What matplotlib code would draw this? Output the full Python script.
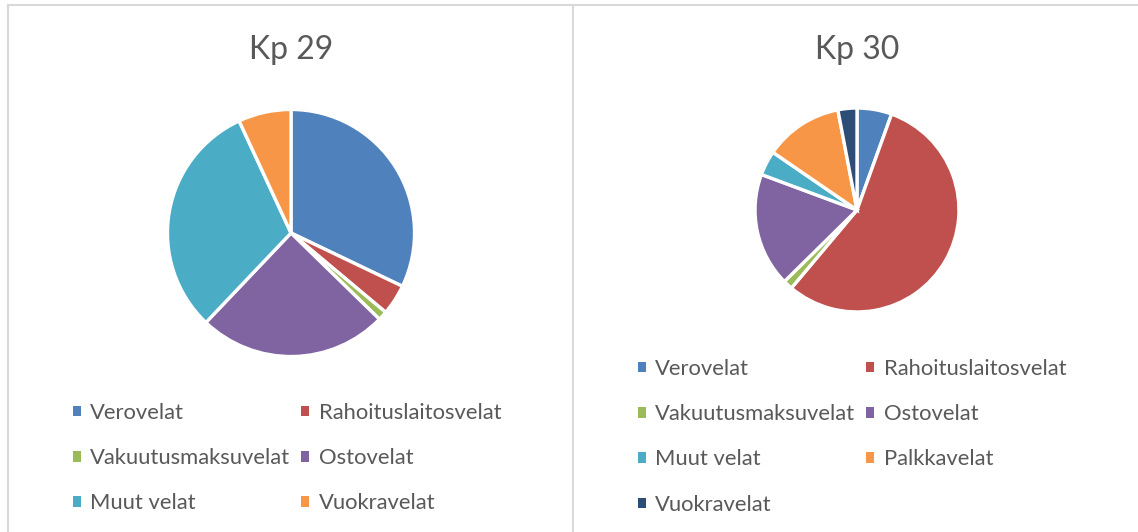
import matplotlib
matplotlib.use("Agg")
import matplotlib.pyplot as plt
from matplotlib.lines import Line2D
from matplotlib.patches import Patch

plt.rcParams['font.family'] = ['Lato', 'DejaVu Sans']

W, H = 1138, 532

# Kp 29
labels_29 = ["Verovelat", "Rahoituslaitosvelat", "Vakuutusmaksuvelat",
             "Ostovelat", "Muut velat", "Vuokravelat"]
values_29 = [32.1, 4.0, 1.2, 24.8, 31.0, 6.9]
colors_29 = ["#4F81BD", "#C0504D", "#9BBB59", "#8064A2", "#4BACC6", "#F79646"]

# Kp 30
labels_30 = ["Verovelat", "Rahoituslaitosvelat", "Vakuutusmaksuvelat",
             "Ostovelat", "Muut velat", "Palkkavelat", "Vuokravelat"]
values_30 = [5.5, 55.5, 1.5, 18.0, 3.9, 12.4, 3.0]
colors_30 = ["#4F81BD", "#C0504D", "#9BBB59", "#8064A2", "#4BACC6",
             "#F79646", "#2C4D75"]

TXT = "#595959"
GRID = "#D9D9D9"


def px_axes(fig, cx, cy, r):
    # axes box from pixel center and radius (y from top)
    return fig.add_axes([(cx - r) / W, (H - cy - r) / H, 2 * r / W, 2 * r / H])


def draw_panel(fig, cx, cy, r, title, labels, values, colors, leg_x, leg_y):
    ax = px_axes(fig, cx, cy, r)
    wedges, _ = ax.pie(values, colors=colors, startangle=90, counterclock=False,
                       radius=1.0, wedgeprops=dict(edgecolor="white", linewidth=2.4))
    ax.set_xlim(-1.02, 1.02)
    ax.set_ylim(-1.02, 1.02)
    ax.set_aspect("equal")
    ax.axis("off")
    fig.text(cx / W, 1 - 50 / H, title, ha="center", va="center",
             fontsize=23, color=TXT)
    handles = [Patch(facecolor=c, edgecolor="none") for c in colors]
    # legend fills column-first, reorder so entries read row by row
    order = list(range(0, len(labels), 2)) + list(range(1, len(labels), 2))
    fig.legend([handles[i] for i in order], [labels[i] for i in order],
               loc="upper left", bbox_to_anchor=(leg_x / W, 1 - leg_y / H),
               ncol=2, frameon=False, fontsize=15.8, labelcolor=TXT,
               handlelength=0.36, handleheight=0.36, handletextpad=0.43,
               columnspacing=0.5, labelspacing=1.15, borderpad=0,
               borderaxespad=0)


fig = plt.figure(figsize=(W / 100, H / 100), dpi=100)

# chart borders
for x0, x1, y0, y1 in [(8, W, 5, 5), (8, 8, 5, H), (573, 573, 5, H)]:
    fig.add_artist(Line2D([x0 / W, x1 / W], [1 - y0 / H, 1 - y1 / H],
                          color=GRID, linewidth=1.5))

draw_panel(fig, 291, 233, 126, "Kp 29", labels_29, values_29, colors_29, 73, 403)
draw_panel(fig, 857, 210, 104, "Kp 30", labels_30, values_30, colors_30, 638, 359)

fig.savefig("out.png", dpi=100)
